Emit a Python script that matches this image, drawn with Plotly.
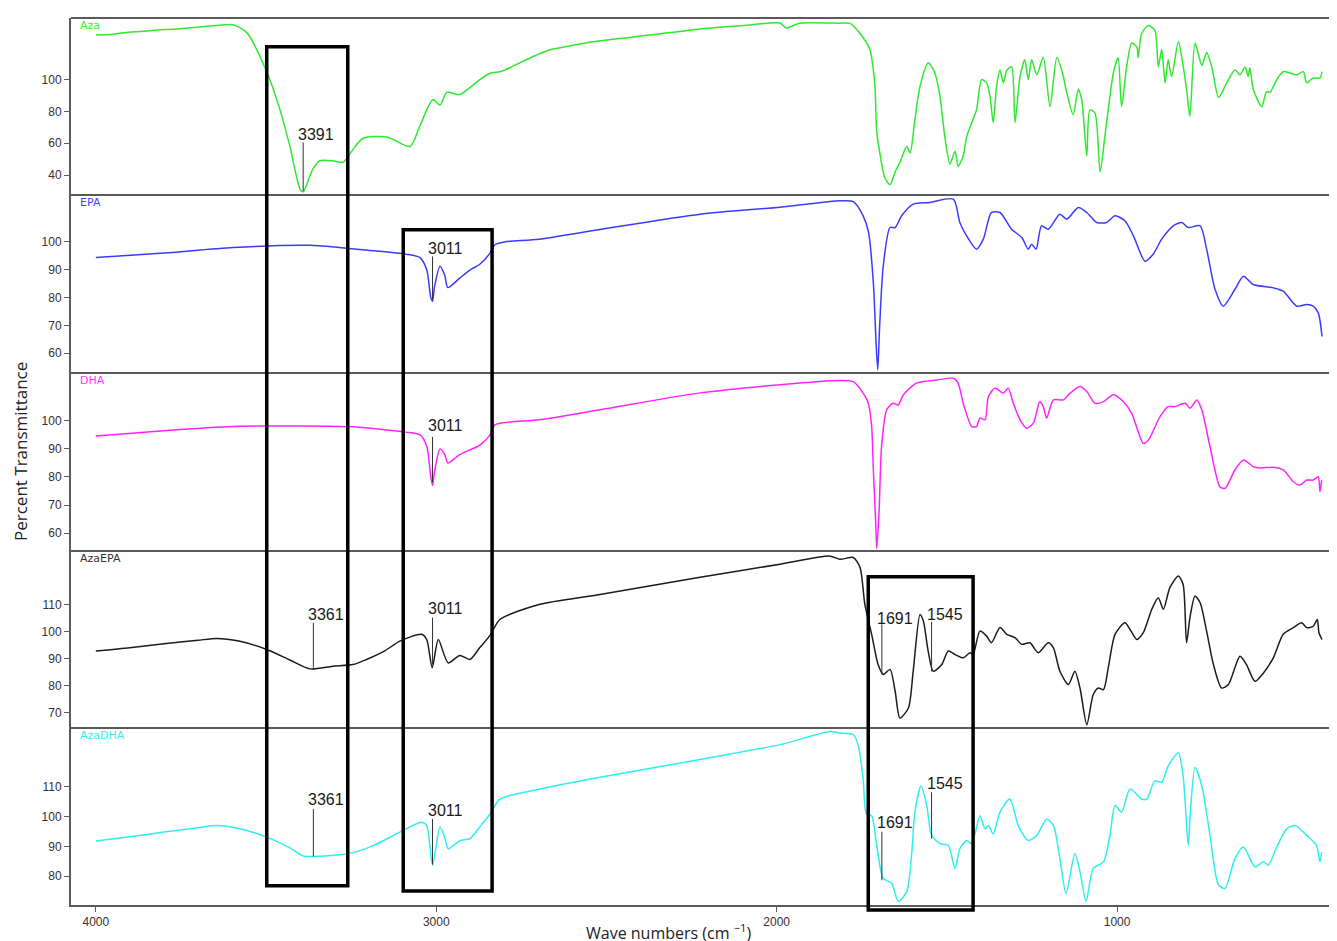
import plotly.graph_objects as go

# ---------------- data (wavenumber cm-1, % transmittance) ----------------
AZA = [(4000,128),(3950,128.5),(3900,130),(3850,130.5),(3800,131.5),(3750,132),(3700,133),(3650,134),
       (3597,134.5),(3556,129.4),(3498,105),(3459,81),(3430,58),(3400,31),(3391,29.5),(3362,44),(3342,49),
       (3304,49),(3274,48),(3245,56),(3216,63),(3145,64),(3077,58),(3048,71),(3010,87.5),(2989,84),(2969,92),
       (2931,90.6),(2901,95),(2872,100),(2842,104),(2813,105),(2784,107.5),(2754,110.6),(2710,115),
       (2666,118.75),(2590,121.9),(2519,124.4),(2372,128),(2225,131.9),(2079,134.4),(1990,135.6),(1973,132.5),
       (1932,135.5),(1814,135.5),(1785,135.4),(1755,129),
       (1726,118.75),(1716,106),(1711,95),(1706,67),(1697,54),(1682,38),(1667,34),(1652,42),(1638,48),
       (1618,58),(1608,54),(1594,75),(1579,95.6),(1555,110.6),(1535,104),(1520,89),(1506,64),(1491,47),
       (1476,55),(1467,45.6),(1452,52),(1442,64),(1427,73),(1413,81),(1398,100),(1383,98),(1373,89),
       (1364,73),(1354,95.6),(1344,106),(1334,98),(1324,106),(1310,108),(1300,73),(1285,102),(1271,112.5),
       (1261,100),(1251,112.5),(1236,103),(1217,114),(1197,83),(1177,114),(1158,102),(1148,92),(1129,78),
       (1114,94),(1104,87.5),(1089,52),(1080,81),(1065,79),(1050,42),(1036,64),(1011,104),(997,113.75),
       (987,83),(972,108),(957,123),(942,120.6),(938,113.75),(928,129),(908,134),(889,131),(879,108),
       (869,119),(859,98),(850,112.5),(840,102),(820,124),(810,114),(796,94),(786,77),(771,123),(751,109),
       (737,117),(722,108),(702,88.75),(678,98),(654,106),(639,103),(624,108),(615,102),(610,107.5),
       (600,94),(575,83),(561,92.5),(551,92),(531,100),(512,105),(472,103),(453,105),(443,98),(424,101),
       (404,101),(398,105)]

EPA = [(4000,94.4),(3800,96),(3597,98),(3371,98.8),(3285,98),(3200,97),(3089,95.6),(3048,94.4),(3028,90),
       (3016,80),(3011,78.7),(3005,84),(2989,91.3),(2975,88),(2966,83.6),(2931,87),(2900,90),(2872,92),
       (2842,96),(2828,99),(2800,100),(2698,101),(2519,104.5),(2225,110),(1990,112.5),(1814,114.8),
       (1775,114.5),(1746,109.4),(1730,103.4),(1716,85.3),(1708,63.7),(1703,54),(1698,68.4),(1687,91.3),
       (1667,105.2),(1652,105.2),(1633,109.4),(1599,113.6),(1550,114.2),(1481,115.4),(1462,107),
       (1442,102.2),(1413,97.4),(1393,101),(1369,110.6),(1344,110.6),(1310,104.6),(1280,101.6),(1261,97.4),
       (1251,99.2),(1238,97.4),(1222,105.8),(1202,104.6),(1168,110),(1148,108.2),(1114,112.4),(1089,110.6),
       (1060,107),(1031,107),(1006,109.4),(977,107.6),(952,102.2),(918,93.1),(894,95.6),(869,101),
       (835,105.8),(810,107),(791,105.2),(756,105.8),(737,97.4),(712,82.9),(688,76.9),(654,82.9),
       (629,87.7),(600,84.7),(541,83.5),(512,82.3),(472,76.9),(443,77.5),(424,76.9),(409,74.5),(398,66)]

DHA = [(4000,94.6),(3800,96.5),(3597,98),(3400,98.2),(3250,97.9),(3089,96),(3048,95),(3028,91),(3016,80),
       (3011,77),(3005,82),(2989,90),(2975,88),(2966,85),(2931,88),(2872,91.4),(2842,95),(2828,98.6),
       (2698,100.4),(2519,104),(2225,110),(1990,112.9),(1814,114.4),(1775,114),(1746,109.9),(1731,106.3),
       (1721,98),(1716,82.5),(1709,63.5),(1706,54.5),(1699,68.2),(1692,90.8),(1677,103.9),(1658,106.3),
       (1643,105.7),(1628,109.3),(1589,113.5),(1530,114.6),(1481,115.2),(1467,113.5),(1452,106.3),
       (1427,98),(1413,98),(1403,101),(1388,100.4),(1378,108.7),(1359,111.7),(1334,109.9),(1320,111.7),
       (1305,106.3),(1285,100.4),(1266,97.4),(1246,99.2),(1227,106.9),(1217,105.1),(1207,101),(1187,107.5),
       (1158,107.5),(1138,109.9),(1109,112.3),(1089,110.5),(1065,106.3),(1040,106.9),(1011,109.3),
       (982,106.9),(957,102.7),(923,92),(908,93.2),(874,101.5),(850,105.1),(830,105.1),(800,106.3),
       (786,104.5),(766,107.5),(751,103.9),(727,90.8),(698,76.5),(683,75.9),(654,82.5),(629,86.1),
       (600,83.7),(580,83.2),(541,83.5),(512,82.5),(482,78.3),(463,77.1),(443,78.9),(424,78.9),(409,80.1),
       (404,74.8),(399,78.9)]

AZAEPA = [(4000,92.8),(3900,94),(3800,95.5),(3700,96.8),(3645,97.5),(3580,96.5),(3498,93.4),(3430,89.5),
          (3371,86.2),(3304,87.2),(3245,87.8),(3205,89.7),(3150,93),(3107,96.5),(3043,99),(3028,97.1),
          (3012,86.6),(2994,97.1),(2965,88.4),(2931,91.2),
          (2901,89.7),(2872,94.1),(2842,98.6),(2813,104.5),(2698,110.1),(2519,113.8),(2225,120.2),
          (1990,125),(1843,128),(1814,126.8),(1775,127.5),(1755,123.8),(1741,110.1),(1721,99),(1702,87.8),
          (1687,84.1),(1667,86),(1652,77.9),(1638,68),(1613,71.7),(1599,85.3),(1579,106.4),(1569,103.9),
          (1555,92.8),(1540,85.3),(1515,87.8),(1496,92.8),(1476,91.5),(1452,90.3),(1432,92.2),(1423,91.5),
          (1403,100.2),(1383,98.3),(1369,95.9),(1344,101.5),(1324,99),(1300,97.8),(1280,95.3),(1256,95.9),
          (1232,92.2),(1202,95.9),(1187,94),(1168,85.3),(1143,80.4),(1124,85.3),(1109,79.1),(1089,65.5),
          (1070,76.7),(1055,79.1),(1040,78.5),(1026,86.6),(1006,99),(977,103.3),(962,100.8),(942,97.1),
          (923,99.6),(898,108.3),(879,112.6),(864,108.3),(845,116.3),(820,120.6),(806,117.5),(796,95.9),
          (786,105.2),(771,113.2),(756,110.7),(737,100.2),(717,87.8),(693,79.1),(673,80.4),(639,90.9),
          (620,87.8),(595,81.6),(570,84.7),(541,90.3),(512,99),(482,101.5),(458,103.3),(443,101.5),
          (424,102),(412,104.5),(407,99.6),(398,97.1)]

AZADHA = [(4000,91.8),(3900,93.2),(3800,94.8),(3700,96.3),(3645,97),(3580,96),(3498,93.1),(3430,89.5),
          (3391,86.8),(3304,87),(3245,87.9),(3180,90.5),(3107,94.8),(3043,98.1),(3028,97),(3011,83.7),
          (2989,96.5),(2975,93),(2965,89.2),(2931,91.9),
          (2901,92.6),(2872,96.6),(2842,100.9),(2813,105.9),(2698,109.2),(2519,113.2),(2225,119.2),
          (1990,124.2),(1843,128.6),(1814,128.1),(1775,127.6),(1760,123.7),(1746,112.6),(1736,100.9),
          (1721,100.3),(1706,90.3),(1687,79.2),(1662,77.6),(1643,71.5),(1618,74.8),(1603,88.1),(1594,101.5),
          (1576,110.3),(1559,103.7),(1545,93.7),(1520,90.9),(1496,90.3),(1476,82.6),(1462,89.2),(1442,92),
          (1427,90.9),(1403,100.3),(1388,95.9),(1378,97),(1364,94.2),(1344,101.5),(1315,105.9),(1290,97),
          (1261,92),(1236,93.7),(1207,99.2),(1187,97),(1168,85.9),(1150,74.2),(1124,87.6),(1109,81.5),
          (1091,71.5),(1070,82.6),(1040,84.8),(1021,93.7),(1006,103.7),(987,101.5),(962,109.3),(928,105.9),
          (913,105.9),(889,112),(869,111.5),(850,117),(820,121.5),(806,113.7),(791,90.3),(786,99.2),
          (771,116.5),(751,110.3),(727,93.7),(702,77),(683,75.9),(654,85.9),(629,89.8),(595,83.1),(570,84.8),
          (556,83.7),(531,89.8),(502,95.9),(477,97),(443,93.7),(414,90.3),(404,84.8),(399,88.1)]

SERIES_NAMES = ["Aza", "EPA", "DHA", "AzaEPA", "AzaDHA"]
SERIES_DATA = [AZA, EPA, DHA, AZAEPA, AZADHA]
Y_TICKS = [[40, 60, 80, 100], [60, 70, 80, 90, 100], [60, 70, 80, 90, 100], [70, 80, 90, 100, 110], [80, 90, 100, 110]]
X_TICKS = [4000, 3000, 2000, 1000]

# peak labels: (panel index, text, wavenumber, label T, line top T, line bottom T)
PEAK_LABELS = [(0, "3391", 3391, 65.6, 60.6, 30.0),
               (1, "3011", 3011, 97.7, 94.8, 79.3),
               (2, "3011", 3011, 98.2, 94.3, 78.2),
               (3, "3361", 3361, 106.4, 103.3, 86.6),
               (3, "3011", 3011, 108.6, 105.2, 87.8),
               (3, "1691", 1691, 104.9, 102.7, 84.1),
               (3, "1545", 1545, 106.4, 103.6, 85.3),
               (4, "3361", 3361, 105.6, 102.6, 86.6),
               (4, "3011", 3011, 102.2, 99.2, 83.9),
               (4, "1691", 1691, 97.9, 94.9, 78.6),
               (4, "1545", 1545, 111.2, 108.2, 92.6)]

# highlighted regions: (wn left, wn right, paper top, paper bottom)
BOXES = [(3498, 3260, 0.9677, 0.0218),
         (3097, 2836, 0.7612, 0.0157),
         (1731, 1423, 0.3701, -0.0056)]

# ---------------- style ----------------
COLORS = ["#2fe82f", "#3b3bff", "#ff22ff", "#1c1c1c", "#2eeeee"]
NAME_COLORS = ["#33ee33", "#4444ff", "#ff33ff", "#333333", "#33eeee"]
Y_RANGES = [[27.5, 138.75], [52.9, 116.9], [53.6, 117.1], [64.3, 129.9], [70.3, 129.8]]
DOMAINS = [[0.8005, 1.0], [0.5998, 0.8005], [0.3991, 0.5998], [0.1996, 0.3991], [0.0, 0.1996]]
AXIS_GRAY = "#5a5a5a"
TICK_FONT = dict(family="Liberation Sans, Arial, sans-serif", size=12, color="#3a3030")

fig = go.Figure()
layout = dict(
    width=1329, height=933,
    margin=dict(l=63, r=0, t=10, b=36),
    paper_bgcolor="white", plot_bgcolor="white",
    showlegend=False,
    xaxis=dict(range=[4073, 354], anchor="y5", tickvals=X_TICKS, ticks="outside", ticklen=5,
               tickcolor=AXIS_GRAY, showgrid=False, zeroline=False, showline=True,
               linecolor=AXIS_GRAY, linewidth=2, tickfont=TICK_FONT),
)

for i, (name, data) in enumerate(zip(SERIES_NAMES, SERIES_DATA)):
    yname = "y" if i == 0 else f"y{i+1}"
    wn = [p[0] for p in data]
    tr = [p[1] for p in data]
    fig.add_trace(go.Scatter(x=wn, y=tr, mode="lines", xaxis="x", yaxis=yname,
                             line=dict(color=COLORS[i], width=1.5, shape="spline", smoothing=0.7),
                             name=name, hoverinfo="skip"))
    layout["yaxis" if i == 0 else f"yaxis{i+1}"] = dict(
        domain=DOMAINS[i], range=Y_RANGES[i], anchor="x", tickvals=Y_TICKS[i],
        ticks="outside", ticklen=5, tickcolor=AXIS_GRAY, showgrid=False, zeroline=False,
        showline=True, linecolor=AXIS_GRAY, linewidth=2, tickfont=TICK_FONT)

fig.update_layout(**layout)

shapes = []
annotations = []
# panel separators / top frame
for d in DOMAINS:
    shapes.append(dict(type="line", xref="paper", yref="paper", x0=0, x1=1, y0=d[1], y1=d[1],
                       line=dict(color=AXIS_GRAY, width=2)))

# series names
for i, name in enumerate(SERIES_NAMES):
    annotations.append(dict(text=name, xref="paper", yref="paper", x=0, y=DOMAINS[i][1],
                            xanchor="left", yanchor="top", xshift=7, yshift=1, showarrow=False,
                            font=dict(family="DejaVu Sans, sans-serif", size=11, color=NAME_COLORS[i])))

# peak labels
for (p, txt, w, ty, t0, t1) in PEAK_LABELS:
    yref = "y" if p == 0 else f"y{p+1}"
    shapes.append(dict(type="line", xref="x", yref=yref, x0=w, x1=w, y0=t0, y1=t1,
                       line=dict(color="#333333", width=1)))
    annotations.append(dict(text=txt, xref="x", yref=yref, x=w, y=ty, xanchor="center",
                            yanchor="middle", xshift=13, showarrow=False,
                            font=dict(family="Liberation Sans, Arial, sans-serif", size=16, color="#1a1a1a")))

# boxes
for (wl, wr, yt, yb) in BOXES:
    shapes.append(dict(type="rect", xref="x", yref="paper", x0=wl, x1=wr, y0=yb, y1=yt,
                       line=dict(color="black", width=3.5), fillcolor="rgba(0,0,0,0)"))

# axis titles
annotations.append(dict(text="Percent Transmittance", xref="paper", yref="paper", x=0, y=0.5107,
                        xanchor="center", yanchor="middle", xshift=-51, textangle=-90, showarrow=False,
                        font=dict(family="Open Sans, sans-serif", size=17, color="#222222")))
annotations.append(dict(text="Wave numbers (cm <sup>\u22121</sup>)", xref="paper", yref="paper",
                        x=0.4716, y=0, xanchor="center", yanchor="middle", yshift=-27, showarrow=False,
                        font=dict(family="Open Sans, sans-serif", size=16, color="#222222")))

fig.update_layout(shapes=shapes, annotations=annotations)
fig.write_html("out.html")
